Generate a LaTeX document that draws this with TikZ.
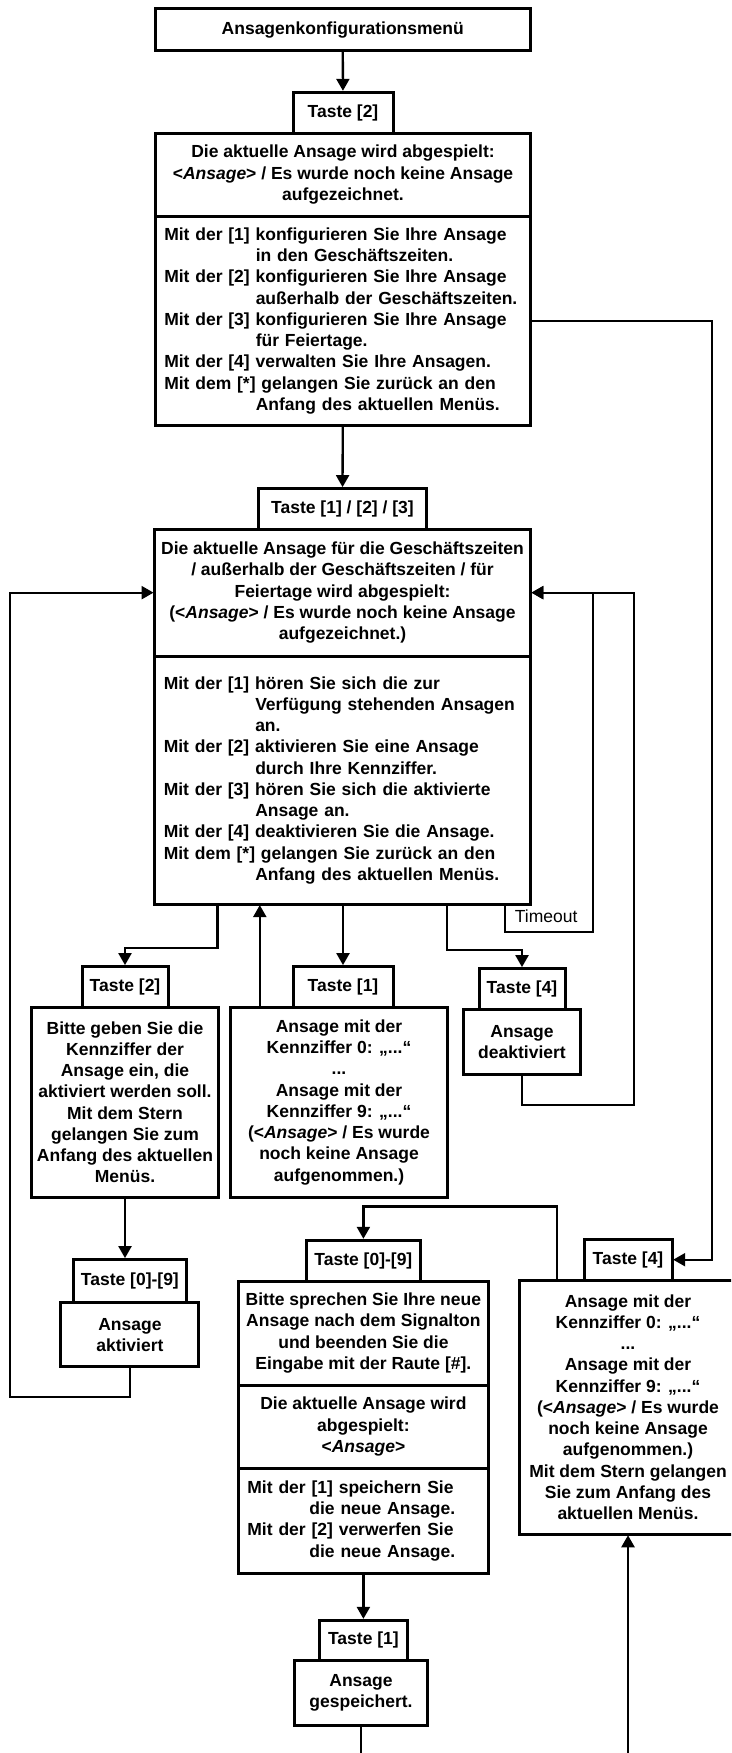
\documentclass[tikz,border=0pt]{standalone}
\usepackage{fontspec}
\setmainfont{Liberation Sans}
\usetikzlibrary{arrows.meta, positioning}

\newcommand{\ein}{\hspace*{91.5pt}}
\newcommand{\einkurz}{\hspace*{62pt}}

\begin{document}
\begin{tikzpicture}[
        x=1pt, y=-1pt,
        box/.style={draw,line width=3pt,outer sep=0pt,inner sep=0pt,align=center,
            font=\fontsize{17.5}{21.25}\selectfont\bfseries},
        taste/.style={box,minimum height=41pt},
        liste/.style={box,align=left,inner xsep=9pt},
        flow/.style={line width=2.3pt,-{Triangle[length=12pt,width=13pt]},shorten >=1.2pt}
    ]
    \useasboundingbox (0,0) rectangle (731,1753);
    \clip (0,0) rectangle (731,1753);

    % Hauptmenue
    \node[box,minimum width=375.5pt,minimum height=42pt] (menu) at (342.75,30) {Ansagenkonfigurationsmenü};
    \node[taste,minimum width=100pt] (taste2) at (343,112.5) {Taste [2]};
    \node[box,minimum width=375.5pt,minimum height=83.5pt,below=0pt of taste2] (ansage1)
        {Die aktuelle Ansage wird abgespielt:\\<\textit{Ansage}> / Es wurde noch keine Ansage\\aufgezeichnet.};
    \node[liste,text width=357.5pt,minimum height=209pt,below=0pt of ansage1] (menue1)
        {Mit der [1] konfigurieren Sie Ihre Ansage\\\ein in den Geschäftszeiten.\\
         Mit der [2] konfigurieren Sie Ihre Ansage\\\ein außerhalb der Geschäftszeiten.\\
         Mit der [3] konfigurieren Sie Ihre Ansage\\\ein für Feiertage.\\
         Mit der [4] verwalten Sie Ihre Ansagen.\\
         Mit dem [*] gelangen Sie zurück an den\\\ein Anfang des aktuellen Menüs.};

    % Untermenue Ansage
    \node[taste,minimum width=167.3pt] (taste123) at (342.5,508.8) {Taste [1] / [2] / [3]};
    \node[box,minimum width=375.5pt,minimum height=126.7pt,below=0pt of taste123] (ansage2)
        {Die aktuelle Ansage für die Geschäftszeiten\\/ außerhalb der Geschäftszeiten / für\\Feiertage wird abgespielt:\\(<\textit{Ansage}> / Es wurde noch keine Ansage\\aufgezeichnet.)};
    \node[liste,text width=357.5pt,minimum height=248.3pt,below=0pt of ansage2] (menue2)
        {Mit der [1] hören Sie sich die zur\\\ein Verfügung stehenden Ansagen\\\ein an.\\
         Mit der [2] aktivieren Sie eine Ansage\\\ein durch Ihre Kennziffer.\\
         Mit der [3] hören Sie sich die aktivierte\\\ein Ansage an.\\
         Mit der [4] deaktivieren Sie die Ansage.\\
         Mit dem [*] gelangen Sie zurück an den\\\ein Anfang des aktuellen Menüs.};

    % Zweige
    \node[taste,minimum width=86pt] (tasteA) at (125,986.8) {Taste [2]};
    \node[box,minimum width=186.5pt,minimum height=190pt,below=0pt of tasteA] (eingabe)
        {Bitte geben Sie die\\Kennziffer der\\Ansage ein, die\\aktiviert werden soll.\\Mit dem Stern\\gelangen Sie zum\\Anfang des aktuellen\\Menüs.};
    \node[taste,minimum width=100pt] (tasteB) at (343,986.8) {Taste [1]};
    \node[box,minimum width=217.2pt,minimum height=190pt,below=0pt of tasteB,xshift=-4pt] (liste1)
        {Ansage mit der\\Kennziffer 0: „...“\\...\\Ansage mit der\\Kennziffer 9: „...“\\(<\textit{Ansage}> / Es wurde\\noch keine Ansage\\aufgenommen.)};
    \node[taste,minimum width=86pt] (tasteC) at (522,988.8) {Taste [4]};
    \node[box,minimum width=117pt,minimum height=65pt,below=0pt of tasteC] (aus) {Ansage\\deaktiviert};

    \node[taste,minimum width=113.3pt,minimum height=43.4pt] (tasteD) at (129.9,1281) {Taste [0]-[9]};
    \node[box,minimum width=138pt,minimum height=64pt,below=0pt of tasteD] (aktiv) {Ansage\\aktiviert};

    % Ansage aufnehmen
    \node[taste,minimum width=113.2pt] (tasteE) at (363.4,1260.5) {Taste [0]-[9]};
    \node[box,minimum width=250pt,minimum height=104pt,below=0pt of tasteE] (aufnahme)
        {Bitte sprechen Sie Ihre neue\\Ansage nach dem Signalton\\und beenden Sie die\\Eingabe mit der Raute [\#].};
    \node[box,minimum width=250pt,minimum height=83.3pt,below=0pt of aufnahme] (ansage3)
        {Die aktuelle Ansage wird\\abgespielt:\\<\textit{Ansage}>};
    \node[liste,text width=232pt,minimum height=105pt,below=0pt of ansage3] (menue3)
        {Mit der [1] speichern Sie\\\einkurz die neue Ansage.\\Mit der [2] verwerfen Sie\\\einkurz die neue Ansage.};
    \node[taste,minimum width=87.2pt,minimum height=40.7pt] (tasteF) at (363.4,1640.4) {Taste [1]};
    \node[box,minimum width=133.8pt,minimum height=64.3pt,below=0pt of tasteF,xshift=-2.4pt] (gespeichert) {Ansage\\gespeichert.};

    % Ansagen verwalten
    \node[taste,minimum width=88pt,minimum height=40.7pt] (tasteG) at (628,1259.7) {Taste [4]};
    \node[box,minimum width=218pt,minimum height=254pt,below=0pt of tasteG] (liste2)
        {Ansage mit der\\Kennziffer 0: „...“\\...\\Ansage mit der\\Kennziffer 9: „...“\\(<\textit{Ansage}> / Es wurde\\noch keine Ansage\\aufgenommen.)\\Mit dem Stern gelangen\\Sie zum Anfang des\\aktuellen Menüs.};

    % Verbindungen
    \draw[flow] (menu) -- (taste2);
    \draw[flow] (menue1) -- (taste123);
    \draw[flow] (menue1.east) -- ++(181.5,0) |- (tasteG.east);
    \draw[flow] ([xshift=62.7pt]menue2.south west) -- ++(0,44) -| (tasteA.north);
    \draw[flow] (tasteB.north |- menue2.south) -- (tasteB.north);
    \draw[flow] ([xshift=292.5pt]menue2.south west) -- ++(0,45.7) -| (tasteC.north);
    \draw[flow] ([xshift=29.4pt]liste1.north west) -- ++(0,-103.4);
    \draw[flow] ([xshift=350pt]menue2.south west) -- ++(0,27.4)
        node[anchor=south west,inner xsep=9pt,inner ysep=8pt,font=\fontsize{17.5}{21}\selectfont] (timeout) {Timeout}
        -- ++(88.5,0) |- (ansage2.east);
    \draw[flow] (aus.south) -- ++(0,30.7) -| ([xshift=103.5pt]ansage2.east) -- (ansage2.east);
    \draw[flow] (eingabe.south) -- (eingabe.south |- tasteD.north);
    \draw[flow] (aktiv.south) |- ++(-119.7,30) |- (ansage2.west);
    \draw[flow] ([xshift=38pt]liste2.north west) -- ++(0,-73.7) -| (tasteE.north);
    \draw[flow] (menue3) -- (tasteF);
    \draw[flow] (gespeichert.south) -- ++(0,60) -| (liste2.south);
\end{tikzpicture}
\end{document}
